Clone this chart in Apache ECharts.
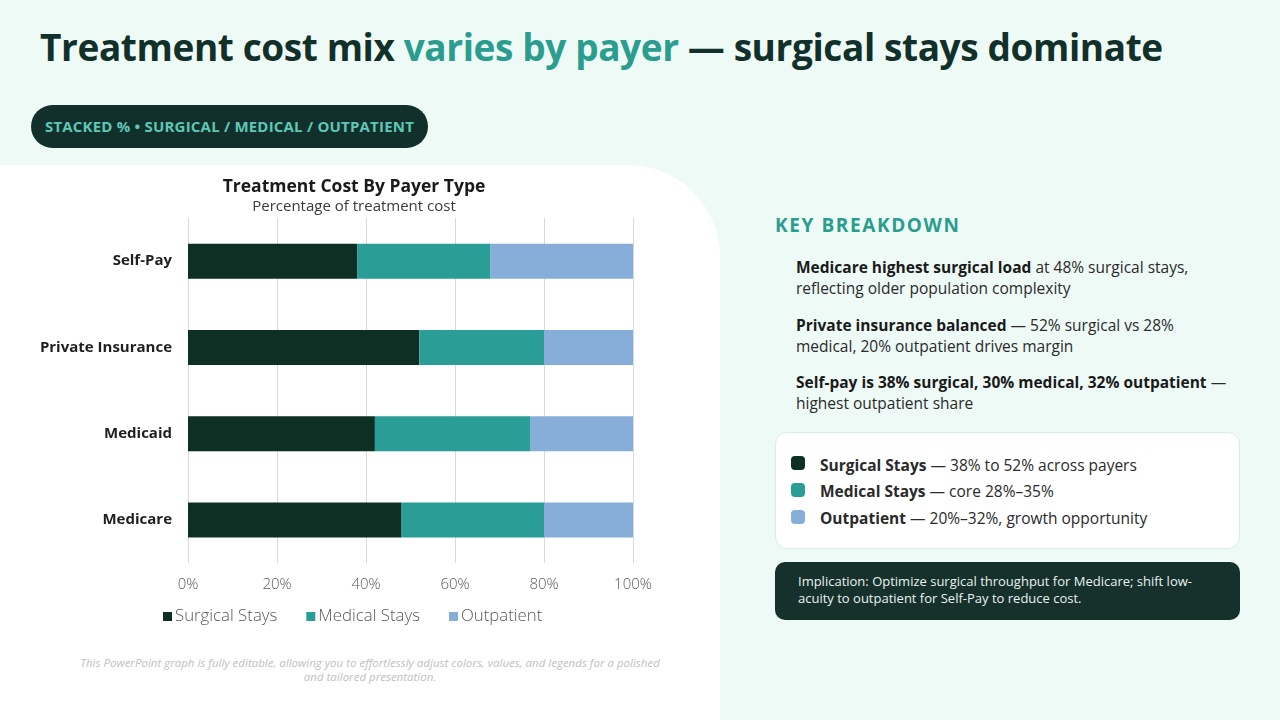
<!DOCTYPE html>
<html>
<head>
<meta charset="utf-8">
<script src="https://cdn.jsdelivr.net/npm/echarts@6/dist/echarts.min.js"></script>
<style>
  html,body{margin:0;padding:0;}
  body{width:1280px;height:720px;background:#eefaf6;position:relative;overflow:hidden;font-family:"Open Sans","Noto Sans",sans-serif;color:#1d2b27;}
  #title{position:absolute;left:40px;top:21px;font-size:37px;font-weight:700;color:#12302a;letter-spacing:-0.4px;white-space:nowrap;}
  #title span{color:#2a9d8f;}
  #pill{position:absolute;left:31px;top:105px;width:397px;height:43px;border-radius:22px;background:#12302b;color:#5ec7b6;font-size:15px;font-weight:700;line-height:43px;text-align:center;letter-spacing:0.2px;white-space:nowrap;}
  #panel{position:absolute;left:0;top:165px;width:720px;height:555px;background:#fff;border-top-right-radius:92px;}
  #chart{position:absolute;left:0;top:165px;width:720px;height:480px;}
  #foot{position:absolute;left:0;top:656px;width:740px;text-align:center;font-size:11.5px;font-style:italic;color:#c0c0c0;line-height:14px;white-space:nowrap;}
  #kb{position:absolute;left:775px;top:212px;font-size:19px;font-weight:700;color:#2a9d8f;letter-spacing:1.6px;}
  .pt{position:absolute;left:796px;font-size:15.5px;line-height:21px;color:#2a2a2a;white-space:nowrap;}
  .pt b{color:#1a1a1a;}
  #box{position:absolute;left:775px;top:432px;width:465px;height:117px;background:#fff;border:1px solid #d5eee7;border-radius:12px;box-sizing:border-box;}
  .li{position:absolute;left:820px;font-size:15.5px;color:#2a2a2a;white-space:nowrap;}
  .dot{position:absolute;left:791px;width:14px;height:14px;border-radius:4px;}
  #impl{position:absolute;left:775px;top:562px;width:465px;height:58px;background:#16302b;border-radius:10px;box-sizing:border-box;padding:11px 22px 0 23px;color:#e8f3f0;font-size:13px;line-height:17px;}
</style>
</head>
<body>
<div id="title">Treatment cost mix <span>varies by payer</span> — surgical stays dominate</div>
<div id="pill">STACKED % • SURGICAL / MEDICAL / OUTPATIENT</div>
<div id="panel"></div>
<div id="chart"></div>
<div id="foot">This PowerPoint graph is fully editable, allowing you to effortlessly adjust colors, values, and legends for a polished<br>and tailored presentation.</div>

<div id="kb">KEY BREAKDOWN</div>
<div class="pt" style="top:257px;"><b>Medicare highest surgical load</b> at 48% surgical stays,<br>reflecting older population complexity</div>
<div class="pt" style="top:315px;"><b>Private insurance balanced</b> — 52% surgical vs 28%<br>medical, 20% outpatient drives margin</div>
<div class="pt" style="top:372px;"><b>Self-pay is 38% surgical, 30% medical, 32% outpatient</b> —<br>highest outpatient share</div>

<div id="box"></div>
<div class="dot" style="top:456px;background:#0e2f23;"></div>
<div class="li" style="top:454px;"><b>Surgical Stays</b> — 38% to 52% across payers</div>
<div class="dot" style="top:483px;background:#2a9d96;"></div>
<div class="li" style="top:480px;"><b>Medical Stays</b> — core 28%–35%</div>
<div class="dot" style="top:510px;background:#86aed9;"></div>
<div class="li" style="top:507px;"><b>Outpatient</b> — 20%–32%, growth opportunity</div>

<div id="impl">Implication: Optimize surgical throughput for Medicare; shift low-acuity to outpatient for Self-Pay to reduce cost.</div>

<script>
const categories = ["Medicare", "Medicaid", "Private Insurance", "Self-Pay"];
const seriesNames = ["Surgical Stays", "Medical Stays", "Outpatient"];
const surgical = [48, 42, 52, 38];
const medical = [32, 35, 28, 30];
const outpatient = [20, 23, 20, 32];
const tickLabels = ["0%", "20%", "40%", "60%", "80%", "100%"];
const colors = ["#0e2f23", "#2a9d96", "#86aed9"];

const chart = echarts.init(document.getElementById('chart'));
const values = [surgical, medical, outpatient];
chart.setOption({
  animation: false,
  title: {
    text: "Treatment Cost By Payer Type",
    subtext: "Percentage of treatment cost",
    left: 349, textAlign: 'center', top: 8,
    itemGap: 3,
    textStyle: {fontFamily: 'Open Sans', fontSize: 17.5, fontWeight: 700, color: '#1a1a1a'},
    subtextStyle: {fontFamily: 'Open Sans', fontSize: 15, color: '#3a3a3a'}
  },
  legend: {
    data: seriesNames, top: 438, left: 158,
    icon: 'rect', itemWidth: 9, itemHeight: 9, itemGap: 29,
    textStyle: {fontFamily: 'Open Sans', fontSize: 16.8, fontWeight: 300, color: '#595959', padding: [0,0,0,-2]}
  },
  grid: {left: 188, right: 87, top: 53, height: 345, containLabel: false},
  xAxis: {
    type: 'value', min: 0, max: 100, interval: 20,
    axisLine: {show: false}, axisTick: {show: false},
    splitLine: {lineStyle: {color: '#d9d9d9', width: 1}},
    axisLabel: {margin: 14, fontFamily: 'Open Sans', fontSize: 15, fontWeight: 300, color: '#595959',
      formatter: (v) => tickLabels[Math.round(v / 20)]}
  },
  yAxis: {
    type: 'category', data: categories,
    axisLine: {show: false}, axisTick: {show: false},
    axisLabel: {margin: 16, fontFamily: 'Open Sans', fontSize: 15, fontWeight: 700, color: '#1f1f1f'}
  },
  series: seriesNames.map((n, i) => ({
    name: n, type: 'bar', stack: 'total', barWidth: 35,
    itemStyle: {color: colors[i]},
    data: values[i]
  }))
});
</script>
</body>
</html>
